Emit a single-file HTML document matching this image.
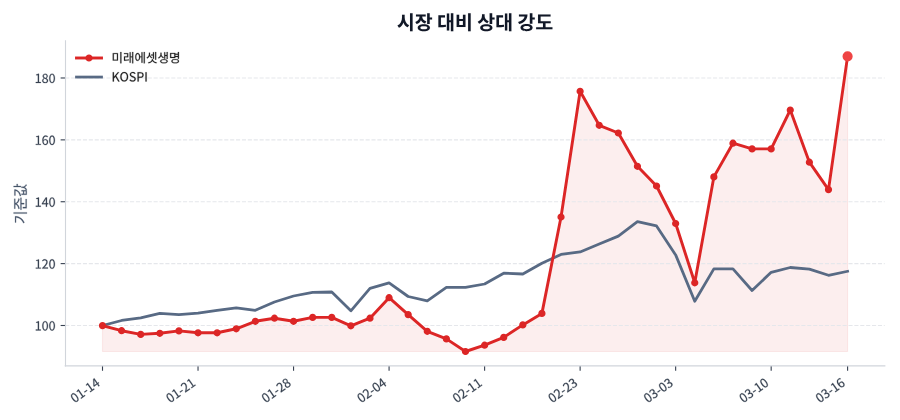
<!DOCTYPE html>
<html><head><meta charset="utf-8"><style>html,body{margin:0;padding:0;background:#fff;width:900px;height:420px;overflow:hidden;font-family:"Liberation Sans",sans-serif}</style></head>
<body><svg width="900" height="420" viewBox="0 0 648 302.4" style="display:block"> <defs> <style type="text/css">*{stroke-linejoin: round; stroke-linecap: butt}</style> </defs> <g id="figure_1"> <g id="patch_1"> <path d="M 0 302.4 L 648 302.4 L 648 0 L 0 0 z " style="fill: #ffffff"/> </g> <g id="axes_1"> <g id="patch_2"> <path d="M 46.98 263.448 L 637.092 263.448 L 637.092 29.9304 L 46.98 29.9304 z " style="fill: #ffffff"/> </g> <g id="FillBetweenPolyCollection_1"> <defs> <path id="mbb5682c461" d="M 73.803273 -49.325052 L 73.803273 -67.972246 L 87.558797 -64.300405 L 101.314322 -61.63652 L 115.069846 -62.428486 L 128.825371 -64.156411 L 142.580895 -62.78847 L 156.33642 -62.78847 L 170.091944 -65.668346 L 183.847469 -71.068112 L 197.602993 -73.300016 L 211.358517 -71.068112 L 225.114042 -73.875991 L 238.869566 -73.875991 L 252.625091 -67.828253 L 266.380615 -73.300016 L 280.13614 -88.059378 L 293.891664 -75.891904 L 307.647189 -63.868424 L 321.402713 -58.39666 L 335.158238 -49.325052 L 348.913762 -53.860856 L 362.669287 -59.476614 L 376.424811 -68.476225 L 390.180336 -76.755867 L 403.93586 -146.160866 L 417.691385 -236.660954 L 431.446909 -212.182012 L 445.202434 -206.638252 L 458.957958 -182.663289 L 472.713483 -168.479902 L 486.469007 -141.481069 L 500.224531 -98.786914 L 513.980056 -175.031618 L 527.73558 -199.29457 L 541.491105 -195.190747 L 555.246629 -195.190747 L 569.002154 -223.197536 L 582.757678 -185.615161 L 596.513203 -165.888014 L 610.268727 -261.859865 L 610.268727 -49.325052 L 610.268727 -49.325052 L 596.513203 -49.325052 L 582.757678 -49.325052 L 569.002154 -49.325052 L 555.246629 -49.325052 L 541.491105 -49.325052 L 527.73558 -49.325052 L 513.980056 -49.325052 L 500.224531 -49.325052 L 486.469007 -49.325052 L 472.713483 -49.325052 L 458.957958 -49.325052 L 445.202434 -49.325052 L 431.446909 -49.325052 L 417.691385 -49.325052 L 403.93586 -49.325052 L 390.180336 -49.325052 L 376.424811 -49.325052 L 362.669287 -49.325052 L 348.913762 -49.325052 L 335.158238 -49.325052 L 321.402713 -49.325052 L 307.647189 -49.325052 L 293.891664 -49.325052 L 280.13614 -49.325052 L 266.380615 -49.325052 L 252.625091 -49.325052 L 238.869566 -49.325052 L 225.114042 -49.325052 L 211.358517 -49.325052 L 197.602993 -49.325052 L 183.847469 -49.325052 L 170.091944 -49.325052 L 156.33642 -49.325052 L 142.580895 -49.325052 L 128.825371 -49.325052 L 115.069846 -49.325052 L 101.314322 -49.325052 L 87.558797 -49.325052 L 73.803273 -49.325052 z " style="stroke: #dc2626; stroke-opacity: 0.08; stroke-width: 0.8"/> </defs> <g clip-path="url(#p54ad250956)"> <use href="#mbb5682c461" x="0" y="302.4" style="fill: #dc2626; fill-opacity: 0.08; stroke: #dc2626; stroke-opacity: 0.08; stroke-width: 0.8"/> </g> </g> <g id="matplotlib.axis_1"> <g id="xtick_1"> <g id="line2d_1"> <defs> <path id="mb86c6f471f" d="M 0 0 L 0 3.5 " style="stroke: #374151; stroke-width: 0.8"/> </defs> <g> <use href="#mb86c6f471f" x="73.803273" y="263.448" style="fill: #374151; stroke: #374151; stroke-width: 0.8"/> </g> </g> <g id="text_1"> <!-- 01-14 --> <g style="fill: #374151; stroke: #374151; stroke-width: 112.6" transform="translate(53.695709 290.367442) rotate(-35) scale(0.09 -0.09)"> <defs> <path id="gl-Regular-30" d="M 1779 -83 C 2669 -83 3238 723 3238 2362 C 3238 3987 2669 4774 1779 4774 C 883 4774 320 3987 320 2362 C 320 723 883 -83 1779 -83 z M 1779 390 C 1248 390 883 986 883 2362 C 883 3731 1248 4314 1779 4314 C 2310 4314 2675 3731 2675 2362 C 2675 986 2310 390 1779 390 z " transform="scale(0.015625)"/> <path id="gl-Regular-31" d="M 563 0 L 3136 0 L 3136 486 L 2195 486 L 2195 4691 L 1747 4691 C 1491 4544 1190 4435 774 4358 L 774 3987 L 1613 3987 L 1613 486 L 563 486 L 563 0 z " transform="scale(0.015625)"/> <path id="gl-Regular-2d" d="M 294 1568 L 1933 1568 L 1933 2016 L 294 2016 L 294 1568 z " transform="scale(0.015625)"/> <path id="gl-Regular-34" d="M 2176 0 L 2726 0 L 2726 1293 L 3354 1293 L 3354 1760 L 2726 1760 L 2726 4691 L 2080 4691 L 128 1677 L 128 1293 L 2176 1293 L 2176 0 z M 2176 1760 L 736 1760 L 1805 3360 C 1939 3590 2067 3827 2182 4051 L 2208 4051 C 2195 3814 2176 3430 2176 3200 L 2176 1760 z " transform="scale(0.015625)"/> </defs> <use href="#gl-Regular-30"/> <use href="#gl-Regular-31" transform="translate(55.499985 0)"/> <use href="#gl-Regular-2d" transform="translate(110.999969 0)"/> <use href="#gl-Regular-31" transform="translate(145.699966 0)"/> <use href="#gl-Regular-34" transform="translate(201.199951 0)"/> </g> </g> </g> <g id="xtick_2"> <g id="line2d_2"> <g> <use href="#mb86c6f471f" x="142.580895" y="263.448" style="fill: #374151; stroke: #374151; stroke-width: 0.8"/> </g> </g> <g id="text_2"> <!-- 01-21 --> <g style="fill: #374151; stroke: #374151; stroke-width: 112.6" transform="translate(122.473331 290.367442) rotate(-35) scale(0.09 -0.09)"> <defs> <path id="gl-Regular-32" d="M 282 0 L 3232 0 L 3232 506 L 1933 506 C 1696 506 1408 480 1165 461 C 2266 1504 3008 2458 3008 3398 C 3008 4230 2477 4774 1638 4774 C 1043 4774 634 4506 256 4090 L 595 3757 C 858 4070 1184 4301 1568 4301 C 2150 4301 2432 3910 2432 3373 C 2432 2566 1754 1632 282 346 L 282 0 z " transform="scale(0.015625)"/> </defs> <use href="#gl-Regular-30"/> <use href="#gl-Regular-31" transform="translate(55.499985 0)"/> <use href="#gl-Regular-2d" transform="translate(110.999969 0)"/> <use href="#gl-Regular-32" transform="translate(145.699966 0)"/> <use href="#gl-Regular-31" transform="translate(201.199951 0)"/> </g> </g> </g> <g id="xtick_3"> <g id="line2d_3"> <g> <use href="#mb86c6f471f" x="211.358517" y="263.448" style="fill: #374151; stroke: #374151; stroke-width: 0.8"/> </g> </g> <g id="text_3"> <!-- 01-28 --> <g style="fill: #374151; stroke: #374151; stroke-width: 112.6" transform="translate(191.250954 290.367442) rotate(-35) scale(0.09 -0.09)"> <defs> <path id="gl-Regular-38" d="M 1792 -83 C 2669 -83 3258 448 3258 1126 C 3258 1773 2880 2125 2470 2362 L 2470 2394 C 2746 2611 3091 3034 3091 3526 C 3091 4250 2605 4762 1805 4762 C 1075 4762 518 4282 518 3571 C 518 3078 813 2726 1152 2490 L 1152 2464 C 723 2234 294 1792 294 1165 C 294 442 922 -83 1792 -83 z M 2112 2547 C 1555 2765 1050 3014 1050 3571 C 1050 4026 1363 4326 1798 4326 C 2298 4326 2592 3962 2592 3494 C 2592 3149 2426 2829 2112 2547 z M 1798 352 C 1235 352 813 717 813 1216 C 813 1664 1082 2035 1459 2278 C 2125 2010 2701 1779 2701 1146 C 2701 678 2342 352 1798 352 z " transform="scale(0.015625)"/> </defs> <use href="#gl-Regular-30"/> <use href="#gl-Regular-31" transform="translate(55.499985 0)"/> <use href="#gl-Regular-2d" transform="translate(110.999969 0)"/> <use href="#gl-Regular-32" transform="translate(145.699966 0)"/> <use href="#gl-Regular-38" transform="translate(201.199951 0)"/> </g> </g> </g> <g id="xtick_4"> <g id="line2d_4"> <g> <use href="#mb86c6f471f" x="280.13614" y="263.448" style="fill: #374151; stroke: #374151; stroke-width: 0.8"/> </g> </g> <g id="text_4"> <!-- 02-04 --> <g style="fill: #374151; stroke: #374151; stroke-width: 112.6" transform="translate(260.028576 290.367442) rotate(-35) scale(0.09 -0.09)"> <use href="#gl-Regular-30"/> <use href="#gl-Regular-32" transform="translate(55.499985 0)"/> <use href="#gl-Regular-2d" transform="translate(110.999969 0)"/> <use href="#gl-Regular-30" transform="translate(145.699966 0)"/> <use href="#gl-Regular-34" transform="translate(201.199951 0)"/> </g> </g> </g> <g id="xtick_5"> <g id="line2d_5"> <g> <use href="#mb86c6f471f" x="348.913762" y="263.448" style="fill: #374151; stroke: #374151; stroke-width: 0.8"/> </g> </g> <g id="text_5"> <!-- 02-11 --> <g style="fill: #374151; stroke: #374151; stroke-width: 112.6" transform="translate(328.806198 290.367442) rotate(-35) scale(0.09 -0.09)"> <use href="#gl-Regular-30"/> <use href="#gl-Regular-32" transform="translate(55.499985 0)"/> <use href="#gl-Regular-2d" transform="translate(110.999969 0)"/> <use href="#gl-Regular-31" transform="translate(145.699966 0)"/> <use href="#gl-Regular-31" transform="translate(201.199951 0)"/> </g> </g> </g> <g id="xtick_6"> <g id="line2d_6"> <g> <use href="#mb86c6f471f" x="417.691385" y="263.448" style="fill: #374151; stroke: #374151; stroke-width: 0.8"/> </g> </g> <g id="text_6"> <!-- 02-23 --> <g style="fill: #374151; stroke: #374151; stroke-width: 112.6" transform="translate(397.583821 290.367442) rotate(-35) scale(0.09 -0.09)"> <defs> <path id="gl-Regular-33" d="M 1683 -83 C 2522 -83 3194 416 3194 1254 C 3194 1901 2752 2310 2202 2445 L 2202 2477 C 2701 2650 3034 3034 3034 3603 C 3034 4346 2458 4774 1664 4774 C 1126 4774 710 4538 358 4218 L 672 3846 C 941 4115 1267 4301 1645 4301 C 2138 4301 2438 4006 2438 3558 C 2438 3053 2112 2662 1139 2662 L 1139 2214 C 2227 2214 2598 1843 2598 1274 C 2598 736 2208 403 1645 403 C 1114 403 762 659 486 941 L 186 563 C 493 224 954 -83 1683 -83 z " transform="scale(0.015625)"/> </defs> <use href="#gl-Regular-30"/> <use href="#gl-Regular-32" transform="translate(55.499985 0)"/> <use href="#gl-Regular-2d" transform="translate(110.999969 0)"/> <use href="#gl-Regular-32" transform="translate(145.699966 0)"/> <use href="#gl-Regular-33" transform="translate(201.199951 0)"/> </g> </g> </g> <g id="xtick_7"> <g id="line2d_7"> <g> <use href="#mb86c6f471f" x="486.469007" y="263.448" style="fill: #374151; stroke: #374151; stroke-width: 0.8"/> </g> </g> <g id="text_7"> <!-- 03-03 --> <g style="fill: #374151; stroke: #374151; stroke-width: 112.6" transform="translate(466.361443 290.367442) rotate(-35) scale(0.09 -0.09)"> <use href="#gl-Regular-30"/> <use href="#gl-Regular-33" transform="translate(55.499985 0)"/> <use href="#gl-Regular-2d" transform="translate(110.999969 0)"/> <use href="#gl-Regular-30" transform="translate(145.699966 0)"/> <use href="#gl-Regular-33" transform="translate(201.199951 0)"/> </g> </g> </g> <g id="xtick_8"> <g id="line2d_8"> <g> <use href="#mb86c6f471f" x="555.246629" y="263.448" style="fill: #374151; stroke: #374151; stroke-width: 0.8"/> </g> </g> <g id="text_8"> <!-- 03-10 --> <g style="fill: #374151; stroke: #374151; stroke-width: 112.6" transform="translate(535.139066 290.367442) rotate(-35) scale(0.09 -0.09)"> <use href="#gl-Regular-30"/> <use href="#gl-Regular-33" transform="translate(55.499985 0)"/> <use href="#gl-Regular-2d" transform="translate(110.999969 0)"/> <use href="#gl-Regular-31" transform="translate(145.699966 0)"/> <use href="#gl-Regular-30" transform="translate(201.199951 0)"/> </g> </g> </g> <g id="xtick_9"> <g id="line2d_9"> <g> <use href="#mb86c6f471f" x="610.268727" y="263.448" style="fill: #374151; stroke: #374151; stroke-width: 0.8"/> </g> </g> <g id="text_9"> <!-- 03-16 --> <g style="fill: #374151; stroke: #374151; stroke-width: 112.6" transform="translate(590.161164 290.367442) rotate(-35) scale(0.09 -0.09)"> <defs> <path id="gl-Regular-36" d="M 1926 -83 C 2656 -83 3277 531 3277 1440 C 3277 2426 2765 2912 1971 2912 C 1606 2912 1197 2701 909 2349 C 934 3802 1466 4294 2118 4294 C 2400 4294 2682 4154 2861 3936 L 3194 4294 C 2931 4576 2579 4774 2093 4774 C 1184 4774 358 4077 358 2240 C 358 691 1030 -83 1926 -83 z M 922 1882 C 1229 2317 1587 2477 1875 2477 C 2445 2477 2720 2074 2720 1440 C 2720 800 2374 378 1926 378 C 1338 378 986 909 922 1882 z " transform="scale(0.015625)"/> </defs> <use href="#gl-Regular-30"/> <use href="#gl-Regular-33" transform="translate(55.499985 0)"/> <use href="#gl-Regular-2d" transform="translate(110.999969 0)"/> <use href="#gl-Regular-31" transform="translate(145.699966 0)"/> <use href="#gl-Regular-36" transform="translate(201.199951 0)"/> </g> </g> </g> </g> <g id="matplotlib.axis_2"> <g id="ytick_1"> <g id="line2d_10"> <path d="M 46.98 234.355757 L 637.092 234.355757 " clip-path="url(#p54ad250956)" style="fill: none; stroke-dasharray: 2.96,1.28; stroke-dashoffset: 0; stroke: #e5e7eb; stroke-width: 0.8"/> </g> <g id="line2d_11"> <defs> <path id="m39114ecc0a" d="M 0 0 L -3.5 0 " style="stroke: #374151; stroke-width: 0.8"/> </defs> <g> <use href="#m39114ecc0a" x="47.16" y="234.355757" style="fill: #374151; stroke: #374151; stroke-width: 0.8"/> </g> </g> <g id="text_10"> <!-- 100 --> <g style="fill: #374151; stroke: #374151; stroke-width: 112.6" transform="translate(24.995 237.937476) scale(0.09 -0.09)"> <use href="#gl-Regular-31"/> <use href="#gl-Regular-30" transform="translate(55.499985 0)"/> <use href="#gl-Regular-30" transform="translate(110.999969 0)"/> </g> </g> </g> <g id="ytick_2"> <g id="line2d_12"> <path d="M 46.98 189.804083 L 637.092 189.804083 " clip-path="url(#p54ad250956)" style="fill: none; stroke-dasharray: 2.96,1.28; stroke-dashoffset: 0; stroke: #e5e7eb; stroke-width: 0.8"/> </g> <g id="line2d_13"> <g> <use href="#m39114ecc0a" x="47.16" y="189.804083" style="fill: #374151; stroke: #374151; stroke-width: 0.8"/> </g> </g> <g id="text_11"> <!-- 120 --> <g style="fill: #374151; stroke: #374151; stroke-width: 112.6" transform="translate(24.995 193.385801) scale(0.09 -0.09)"> <use href="#gl-Regular-31"/> <use href="#gl-Regular-32" transform="translate(55.499985 0)"/> <use href="#gl-Regular-30" transform="translate(110.999969 0)"/> </g> </g> </g> <g id="ytick_3"> <g id="line2d_14"> <path d="M 46.98 145.252409 L 637.092 145.252409 " clip-path="url(#p54ad250956)" style="fill: none; stroke-dasharray: 2.96,1.28; stroke-dashoffset: 0; stroke: #e5e7eb; stroke-width: 0.8"/> </g> <g id="line2d_15"> <g> <use href="#m39114ecc0a" x="47.16" y="145.252409" style="fill: #374151; stroke: #374151; stroke-width: 0.8"/> </g> </g> <g id="text_12"> <!-- 140 --> <g style="fill: #374151; stroke: #374151; stroke-width: 112.6" transform="translate(24.995 148.834127) scale(0.09 -0.09)"> <use href="#gl-Regular-31"/> <use href="#gl-Regular-34" transform="translate(55.499985 0)"/> <use href="#gl-Regular-30" transform="translate(110.999969 0)"/> </g> </g> </g> <g id="ytick_4"> <g id="line2d_16"> <path d="M 46.98 100.700734 L 637.092 100.700734 " clip-path="url(#p54ad250956)" style="fill: none; stroke-dasharray: 2.96,1.28; stroke-dashoffset: 0; stroke: #e5e7eb; stroke-width: 0.8"/> </g> <g id="line2d_17"> <g> <use href="#m39114ecc0a" x="47.16" y="100.700734" style="fill: #374151; stroke: #374151; stroke-width: 0.8"/> </g> </g> <g id="text_13"> <!-- 160 --> <g style="fill: #374151; stroke: #374151; stroke-width: 112.6" transform="translate(24.995 104.282453) scale(0.09 -0.09)"> <use href="#gl-Regular-31"/> <use href="#gl-Regular-36" transform="translate(55.499985 0)"/> <use href="#gl-Regular-30" transform="translate(110.999969 0)"/> </g> </g> </g> <g id="ytick_5"> <g id="line2d_18"> <path d="M 46.98 56.14906 L 637.092 56.14906 " clip-path="url(#p54ad250956)" style="fill: none; stroke-dasharray: 2.96,1.28; stroke-dashoffset: 0; stroke: #e5e7eb; stroke-width: 0.8"/> </g> <g id="line2d_19"> <g> <use href="#m39114ecc0a" x="47.16" y="56.14906" style="fill: #374151; stroke: #374151; stroke-width: 0.8"/> </g> </g> <g id="text_14"> <!-- 180 --> <g style="fill: #374151; stroke: #374151; stroke-width: 112.6" transform="translate(24.995 59.730779) scale(0.09 -0.09)"> <use href="#gl-Regular-31"/> <use href="#gl-Regular-38" transform="translate(55.499985 0)"/> <use href="#gl-Regular-30" transform="translate(110.999969 0)"/> </g> </g> </g> <g id="text_15"> <!-- 기준값 --> <g style="fill: #475569; stroke: #475569; stroke-width: 95.6" transform="translate(18.566937 161.3172) rotate(-90) scale(0.106 -0.106)"> <defs> <path id="gl-Regular-ae30" d="M 4538 5293 L 4538 -499 L 5069 -499 L 5069 5293 L 4538 5293 z M 659 4666 L 659 4237 L 2829 4237 C 2720 2854 1939 1754 390 1011 L 672 582 C 2611 1523 3366 2995 3366 4666 L 659 4666 z " transform="scale(0.015625)"/> <path id="gl-Regular-c900" d="M 800 5005 L 800 4576 L 2592 4576 C 2592 3872 1664 3296 634 3155 L 832 2733 C 1779 2867 2624 3334 2931 4006 C 3245 3334 4096 2867 5037 2733 L 5235 3155 C 4211 3296 3277 3872 3277 4576 L 5075 4576 L 5075 5005 L 800 5005 z M 314 2317 L 314 1882 L 2714 1882 L 2714 710 L 3238 710 L 3238 1882 L 5562 1882 L 5562 2317 L 314 2317 z M 979 1274 L 979 -371 L 4979 -371 L 4979 64 L 1510 64 L 1510 1274 L 979 1274 z " transform="scale(0.015625)"/> <path id="gl-Regular-ac12" d="M 947 1843 L 947 -416 L 2931 -416 L 2931 1843 L 2445 1843 L 2445 1152 L 1446 1152 L 1446 1843 L 947 1843 z M 1446 742 L 2445 742 L 2445 0 L 1446 0 L 1446 742 z M 4282 5293 L 4282 2144 L 4813 2144 L 4813 3514 L 5664 3514 L 5664 3962 L 4813 3962 L 4813 5293 L 4282 5293 z M 589 4947 L 589 4512 L 2662 4512 C 2573 3584 1747 2861 333 2522 L 531 2086 C 2227 2502 3245 3488 3245 4947 L 589 4947 z M 3968 1907 L 3968 1421 C 3968 870 3635 230 2963 -70 L 3251 -474 C 3731 -256 4051 141 4224 582 C 4397 134 4717 -256 5190 -474 L 5472 -70 C 4806 224 4480 870 4480 1440 L 4480 1907 L 3968 1907 z " transform="scale(0.015625)"/> </defs> <use href="#gl-Regular-ae30"/> <use href="#gl-Regular-c900" transform="translate(91.999985 0)"/> <use href="#gl-Regular-ac12" transform="translate(183.999969 0)"/> </g> </g> </g> <g id="line2d_20"> <path d="M 73.803273 234.427754 L 87.558797 230.755912 L 101.314322 228.811996 L 115.069846 225.644133 L 128.825371 226.580093 L 142.580895 225.50014 L 156.33642 223.41223 L 170.091944 221.612308 L 183.847469 223.41223 L 197.602993 217.436488 L 211.358517 213.116675 L 225.114042 210.524787 L 238.869566 210.236799 L 252.625091 223.772214 L 266.380615 207.644911 L 280.13614 203.685083 L 293.891664 213.476659 L 307.647189 216.644522 L 321.402713 206.924943 L 335.158238 206.924943 L 348.913762 204.477048 L 362.669287 196.701384 L 376.424811 197.27736 L 390.180336 189.501696 L 403.93586 183.237966 L 417.691385 181.438044 L 431.446909 175.678293 L 445.202434 169.990539 L 458.957958 159.55099 L 472.713483 162.646857 L 486.469007 183.525954 L 500.224531 216.860513 L 513.980056 193.605518 L 527.73558 193.605518 L 541.491105 209.156846 L 555.246629 196.053413 L 569.002154 192.597562 L 582.757678 193.749512 L 596.513203 198.213319 L 610.268727 195.333444 " clip-path="url(#p54ad250956)" style="fill: none; stroke: #586a84; stroke-width: 2; stroke-linecap: square"/> </g> <g id="patch_3"> <path d="M 47.16 263.448 L 47.16 29.35 " style="fill: none; stroke: #d1d5db; stroke-width: 0.8; stroke-linejoin: miter; stroke-linecap: square"/> </g> <g id="patch_4"> <path d="M 46.98 263.448 L 637.092 263.448 " style="fill: none; stroke: #d1d5db; stroke-width: 0.8; stroke-linejoin: miter; stroke-linecap: square"/> </g> <g id="line2d_21"> <path d="M 73.803273 234.427754 L 87.558797 238.099595 L 101.314322 240.76348 L 115.069846 239.971514 L 128.825371 238.243589 L 142.580895 239.61153 L 156.33642 239.61153 L 170.091944 236.731654 L 183.847469 231.331888 L 197.602993 229.099984 L 211.358517 231.331888 L 225.114042 228.524009 L 238.869566 228.524009 L 252.625091 234.571747 L 266.380615 229.099984 L 280.13614 214.340622 L 293.891664 226.508096 L 307.647189 238.531576 L 321.402713 244.00334 L 335.158238 253.074948 L 348.913762 248.539144 L 362.669287 242.923386 L 376.424811 233.923775 L 390.180336 225.644133 L 403.93586 156.239134 L 417.691385 65.739046 L 431.446909 90.217988 L 445.202434 95.761748 L 458.957958 119.736711 L 472.713483 133.920098 L 486.469007 160.918931 L 500.224531 203.613086 L 513.980056 127.368382 L 527.73558 103.10543 L 541.491105 107.209253 L 555.246629 107.209253 L 569.002154 79.202464 L 582.757678 116.784839 L 596.513203 136.511986 L 610.268727 40.540135 " clip-path="url(#p54ad250956)" style="fill: none; stroke: #dc2626; stroke-width: 2.1; stroke-linecap: square"/> <defs> <path id="m06e11cd107" d="M 0 2.1 C 0.556927 2.1 1.091118 1.878731 1.484924 1.484924 C 1.878731 1.091118 2.1 0.556927 2.1 0 C 2.1 -0.556927 1.878731 -1.091118 1.484924 -1.484924 C 1.091118 -1.878731 0.556927 -2.1 0 -2.1 C -0.556927 -2.1 -1.091118 -1.878731 -1.484924 -1.484924 C -1.878731 -1.091118 -2.1 -0.556927 -2.1 0 C -2.1 0.556927 -1.878731 1.091118 -1.484924 1.484924 C -1.091118 1.878731 -0.556927 2.1 0 2.1 z " style="stroke: #dc2626"/> </defs> <g clip-path="url(#p54ad250956)"> <use href="#m06e11cd107" x="73.803273" y="234.427754" style="fill: #dc2626; stroke: #dc2626"/> <use href="#m06e11cd107" x="87.558797" y="238.099595" style="fill: #dc2626; stroke: #dc2626"/> <use href="#m06e11cd107" x="101.314322" y="240.76348" style="fill: #dc2626; stroke: #dc2626"/> <use href="#m06e11cd107" x="115.069846" y="239.971514" style="fill: #dc2626; stroke: #dc2626"/> <use href="#m06e11cd107" x="128.825371" y="238.243589" style="fill: #dc2626; stroke: #dc2626"/> <use href="#m06e11cd107" x="142.580895" y="239.61153" style="fill: #dc2626; stroke: #dc2626"/> <use href="#m06e11cd107" x="156.33642" y="239.61153" style="fill: #dc2626; stroke: #dc2626"/> <use href="#m06e11cd107" x="170.091944" y="236.731654" style="fill: #dc2626; stroke: #dc2626"/> <use href="#m06e11cd107" x="183.847469" y="231.331888" style="fill: #dc2626; stroke: #dc2626"/> <use href="#m06e11cd107" x="197.602993" y="229.099984" style="fill: #dc2626; stroke: #dc2626"/> <use href="#m06e11cd107" x="211.358517" y="231.331888" style="fill: #dc2626; stroke: #dc2626"/> <use href="#m06e11cd107" x="225.114042" y="228.524009" style="fill: #dc2626; stroke: #dc2626"/> <use href="#m06e11cd107" x="238.869566" y="228.524009" style="fill: #dc2626; stroke: #dc2626"/> <use href="#m06e11cd107" x="252.625091" y="234.571747" style="fill: #dc2626; stroke: #dc2626"/> <use href="#m06e11cd107" x="266.380615" y="229.099984" style="fill: #dc2626; stroke: #dc2626"/> <use href="#m06e11cd107" x="280.13614" y="214.340622" style="fill: #dc2626; stroke: #dc2626"/> <use href="#m06e11cd107" x="293.891664" y="226.508096" style="fill: #dc2626; stroke: #dc2626"/> <use href="#m06e11cd107" x="307.647189" y="238.531576" style="fill: #dc2626; stroke: #dc2626"/> <use href="#m06e11cd107" x="321.402713" y="244.00334" style="fill: #dc2626; stroke: #dc2626"/> <use href="#m06e11cd107" x="335.158238" y="253.074948" style="fill: #dc2626; stroke: #dc2626"/> <use href="#m06e11cd107" x="348.913762" y="248.539144" style="fill: #dc2626; stroke: #dc2626"/> <use href="#m06e11cd107" x="362.669287" y="242.923386" style="fill: #dc2626; stroke: #dc2626"/> <use href="#m06e11cd107" x="376.424811" y="233.923775" style="fill: #dc2626; stroke: #dc2626"/> <use href="#m06e11cd107" x="390.180336" y="225.644133" style="fill: #dc2626; stroke: #dc2626"/> <use href="#m06e11cd107" x="403.93586" y="156.239134" style="fill: #dc2626; stroke: #dc2626"/> <use href="#m06e11cd107" x="417.691385" y="65.739046" style="fill: #dc2626; stroke: #dc2626"/> <use href="#m06e11cd107" x="431.446909" y="90.217988" style="fill: #dc2626; stroke: #dc2626"/> <use href="#m06e11cd107" x="445.202434" y="95.761748" style="fill: #dc2626; stroke: #dc2626"/> <use href="#m06e11cd107" x="458.957958" y="119.736711" style="fill: #dc2626; stroke: #dc2626"/> <use href="#m06e11cd107" x="472.713483" y="133.920098" style="fill: #dc2626; stroke: #dc2626"/> <use href="#m06e11cd107" x="486.469007" y="160.918931" style="fill: #dc2626; stroke: #dc2626"/> <use href="#m06e11cd107" x="500.224531" y="203.613086" style="fill: #dc2626; stroke: #dc2626"/> <use href="#m06e11cd107" x="513.980056" y="127.368382" style="fill: #dc2626; stroke: #dc2626"/> <use href="#m06e11cd107" x="527.73558" y="103.10543" style="fill: #dc2626; stroke: #dc2626"/> <use href="#m06e11cd107" x="541.491105" y="107.209253" style="fill: #dc2626; stroke: #dc2626"/> <use href="#m06e11cd107" x="555.246629" y="107.209253" style="fill: #dc2626; stroke: #dc2626"/> <use href="#m06e11cd107" x="569.002154" y="79.202464" style="fill: #dc2626; stroke: #dc2626"/> <use href="#m06e11cd107" x="582.757678" y="116.784839" style="fill: #dc2626; stroke: #dc2626"/> <use href="#m06e11cd107" x="596.513203" y="136.511986" style="fill: #dc2626; stroke: #dc2626"/> <use href="#m06e11cd107" x="610.268727" y="40.540135" style="fill: #dc2626; stroke: #dc2626"/> </g> </g> <g id="text_16"> <!-- 시장 대비 상대 강도 --> <g style="fill: #111827; stroke: #111827; stroke-width: 19.7" transform="translate(285.748344 21.2804) scale(0.14 -0.14)"> <defs> <path id="gl-Bold-c2dc" d="M 4326 5370 L 4326 -576 L 5178 -576 L 5178 5370 L 4326 5370 z M 1702 4902 L 1702 4045 C 1702 2893 1216 1747 186 1299 L 691 595 C 1402 928 1882 1562 2144 2349 C 2406 1626 2867 1043 3546 736 L 4038 1427 C 3027 1856 2560 2944 2560 4045 L 2560 4902 L 1702 4902 z " transform="scale(0.015625)"/> <path id="gl-Bold-c7a5" d="M 2989 1741 C 1760 1741 979 1306 979 589 C 979 -141 1760 -570 2989 -570 C 4218 -570 4992 -141 4992 589 C 4992 1306 4218 1741 2989 1741 z M 2989 1075 C 3744 1075 4147 922 4147 589 C 4147 250 3744 90 2989 90 C 2234 90 1830 250 1830 589 C 1830 922 2234 1075 2989 1075 z M 397 4966 L 397 4288 L 1581 4288 C 1568 3546 1139 2797 179 2477 L 602 1805 C 1306 2035 1773 2502 2035 3098 C 2291 2598 2733 2208 3386 2010 L 3795 2675 C 2861 2950 2451 3610 2438 4288 L 3603 4288 L 3603 4966 L 397 4966 z M 4070 5357 L 4070 1843 L 4922 1843 L 4922 3302 L 5709 3302 L 5709 4000 L 4922 4000 L 4922 5357 L 4070 5357 z " transform="scale(0.015625)"/> <path id="gl-Bold-20" transform="scale(0.015625)"/> <path id="gl-Bold-b300" d="M 3213 5261 L 3213 -288 L 4000 -288 L 4000 2394 L 4538 2394 L 4538 -563 L 5350 -563 L 5350 5363 L 4538 5363 L 4538 3078 L 4000 3078 L 4000 5261 L 3213 5261 z M 429 4672 L 429 768 L 845 768 C 1600 768 2227 794 2950 928 L 2880 1619 C 2323 1517 1818 1485 1267 1472 L 1267 3987 L 2611 3987 L 2611 4672 L 429 4672 z " transform="scale(0.015625)"/> <path id="gl-Bold-be44" d="M 4326 5370 L 4326 -576 L 5178 -576 L 5178 5370 L 4326 5370 z M 550 4896 L 550 806 L 3469 806 L 3469 4896 L 2624 4896 L 2624 3450 L 1395 3450 L 1395 4896 L 550 4896 z M 1395 2790 L 2624 2790 L 2624 1485 L 1395 1485 L 1395 2790 z " transform="scale(0.015625)"/> <path id="gl-Bold-c0c1" d="M 2989 1722 C 1754 1722 979 1293 979 576 C 979 -141 1754 -570 2989 -570 C 4224 -570 4992 -141 4992 576 C 4992 1293 4224 1722 2989 1722 z M 2989 1062 C 3744 1062 4147 909 4147 576 C 4147 250 3744 90 2989 90 C 2234 90 1830 250 1830 576 C 1830 909 2234 1062 2989 1062 z M 1562 5043 L 1562 4512 C 1562 3706 1158 2912 166 2579 L 614 1914 C 1286 2150 1747 2611 2003 3194 C 2253 2688 2682 2291 3309 2080 L 3750 2746 C 2816 3034 2419 3718 2419 4435 L 2419 5043 L 1562 5043 z M 4070 5357 L 4070 1856 L 4922 1856 L 4922 3290 L 5709 3290 L 5709 3987 L 4922 3987 L 4922 5357 L 4070 5357 z " transform="scale(0.015625)"/> <path id="gl-Bold-ac15" d="M 3002 1856 C 1811 1856 1011 1382 1011 640 C 1011 -102 1811 -570 3002 -570 C 4198 -570 4992 -102 4992 640 C 4992 1382 4198 1856 3002 1856 z M 3002 1197 C 3725 1197 4154 1005 4154 640 C 4154 275 3725 90 3002 90 C 2285 90 1856 275 1856 640 C 1856 1005 2285 1197 3002 1197 z M 4070 5363 L 4070 1933 L 4922 1933 L 4922 3277 L 5709 3277 L 5709 3981 L 4922 3981 L 4922 5363 L 4070 5363 z M 493 4973 L 493 4294 L 2362 4294 C 2234 3488 1504 2816 218 2470 L 563 1792 C 2304 2272 3296 3379 3296 4973 L 493 4973 z " transform="scale(0.015625)"/> <path id="gl-Bold-b3c4" d="M 890 4954 L 890 2035 L 2515 2035 L 2515 794 L 262 794 L 262 96 L 5632 96 L 5632 794 L 3360 794 L 3360 2035 L 5056 2035 L 5056 2720 L 1734 2720 L 1734 4275 L 5011 4275 L 5011 4954 L 890 4954 z " transform="scale(0.015625)"/> </defs> <use href="#gl-Bold-c2dc"/> <use href="#gl-Bold-c7a5" transform="translate(91.999985 0)"/> <use href="#gl-Bold-20" transform="translate(183.999969 0)"/> <use href="#gl-Bold-b300" transform="translate(206.699966 0)"/> <use href="#gl-Bold-be44" transform="translate(298.699951 0)"/> <use href="#gl-Bold-20" transform="translate(390.699936 0)"/> <use href="#gl-Bold-c0c1" transform="translate(413.399933 0)"/> <use href="#gl-Bold-b300" transform="translate(505.399918 0)"/> <use href="#gl-Bold-20" transform="translate(597.399902 0)"/> <use href="#gl-Bold-ac15" transform="translate(620.099899 0)"/> <use href="#gl-Bold-b3c4" transform="translate(712.099884 0)"/> </g> </g> <g id="PathCollection_1"> <defs> <path id="mcf82a3c0c2" d="M 0 3.162278 C 0.838646 3.162278 1.643056 2.82908 2.236068 2.236068 C 2.82908 1.643056 3.162278 0.838646 3.162278 0 C 3.162278 -0.838646 2.82908 -1.643056 2.236068 -2.236068 C 1.643056 -2.82908 0.838646 -3.162278 0 -3.162278 C -0.838646 -3.162278 -1.643056 -2.82908 -2.236068 -2.236068 C -2.82908 -1.643056 -3.162278 -0.838646 -3.162278 0 C -3.162278 0.838646 -2.82908 1.643056 -2.236068 2.236068 C -1.643056 2.82908 -0.838646 3.162278 0 3.162278 z " style="stroke: #ef4444"/> </defs> <g clip-path="url(#p54ad250956)"> <use href="#mcf82a3c0c2" x="610.268727" y="40.540135" style="fill: #ef4444; stroke: #ef4444"/> </g> </g> <g id="legend_1"> <g id="line2d_22"> <path d="M 55.08 41.755811 L 64.08 41.755811 L 73.08 41.755811 " style="fill: none; stroke: #dc2626; stroke-width: 2.1; stroke-linecap: square"/> <g> <use href="#m06e11cd107" x="64.08" y="41.755811" style="fill: #dc2626; stroke: #dc2626"/> </g> </g> <g id="text_17"> <!-- 미래에셋생명 --> <g style="fill: #222222; stroke: #222222; stroke-width: 112.6" transform="translate(80.28 44.905811) scale(0.09 -0.09)"> <defs> <path id="gl-Regular-bbf8" d="M 646 4723 L 646 954 L 3309 954 L 3309 4723 L 646 4723 z M 2797 4301 L 2797 1382 L 1171 1382 L 1171 4301 L 2797 4301 z M 4525 5293 L 4525 -506 L 5056 -506 L 5056 5293 L 4525 5293 z " transform="scale(0.015625)"/> <path id="gl-Regular-b798" d="M 499 4666 L 499 4224 L 2150 4224 L 2150 3066 L 512 3066 L 512 883 L 890 883 C 1613 883 2259 909 3066 1050 L 3021 1485 C 2291 1357 1677 1331 1024 1331 L 1024 2630 L 2662 2630 L 2662 4666 L 499 4666 z M 3411 5165 L 3411 -198 L 3904 -198 L 3904 2573 L 4723 2573 L 4723 -499 L 5229 -499 L 5229 5293 L 4723 5293 L 4723 3008 L 3904 3008 L 3904 5165 L 3411 5165 z " transform="scale(0.015625)"/> <path id="gl-Regular-c5d0" d="M 4730 5293 L 4730 -499 L 5242 -499 L 5242 5293 L 4730 5293 z M 1619 4314 C 2080 4314 2368 3731 2368 2797 C 2368 1856 2080 1274 1619 1274 C 1171 1274 883 1856 883 2797 C 883 3731 1171 4314 1619 4314 z M 1619 4806 C 877 4806 390 4032 390 2797 C 390 1555 877 774 1619 774 C 2336 774 2810 1472 2854 2605 L 3578 2605 L 3578 -205 L 4083 -205 L 4083 5171 L 3578 5171 L 3578 3040 L 2854 3040 C 2797 4134 2323 4806 1619 4806 z " transform="scale(0.015625)"/> <path id="gl-Regular-c14b" d="M 4691 5293 L 4691 1344 L 5197 1344 L 5197 5293 L 4691 5293 z M 3558 5165 L 3558 3968 L 2662 3968 L 2662 3533 L 3558 3533 L 3558 1875 L 4064 1875 L 4064 5165 L 3558 5165 z M 3034 1626 L 3034 1446 C 3034 704 2093 90 1069 -58 L 1267 -474 C 2138 -333 2944 102 3296 736 C 3654 102 4454 -333 5325 -474 L 5530 -58 C 4506 90 3565 704 3565 1446 L 3565 1626 L 3034 1626 z M 1517 4941 L 1517 4186 C 1517 3526 1069 2771 320 2432 L 608 2029 C 1165 2278 1568 2758 1773 3309 C 1971 2797 2349 2368 2880 2138 L 3162 2547 C 2445 2854 2029 3520 2029 4186 L 2029 4941 L 1517 4941 z " transform="scale(0.015625)"/> <path id="gl-Regular-c0dd" d="M 3296 1587 C 2099 1587 1363 1203 1363 550 C 1363 -102 2099 -486 3296 -486 C 4486 -486 5229 -102 5229 550 C 5229 1203 4486 1587 3296 1587 z M 3296 1178 C 4160 1178 4698 947 4698 550 C 4698 154 4160 -77 3296 -77 C 2426 -77 1888 154 1888 550 C 1888 947 2426 1178 3296 1178 z M 1530 4928 L 1530 4154 C 1530 3507 1082 2758 320 2419 L 608 2010 C 1171 2259 1581 2746 1792 3296 C 1997 2797 2387 2387 2931 2170 L 3213 2579 C 2477 2861 2042 3514 2042 4154 L 2042 4928 L 1530 4928 z M 3450 5178 L 3450 1901 L 3949 1901 L 3949 3302 L 4691 3302 L 4691 1715 L 5197 1715 L 5197 5286 L 4691 5286 L 4691 3738 L 3949 3738 L 3949 5178 L 3450 5178 z " transform="scale(0.015625)"/> <path id="gl-Regular-ba85" d="M 2707 4422 L 2707 2707 L 1107 2707 L 1107 4422 L 2707 4422 z M 3174 1696 C 1978 1696 1248 1293 1248 602 C 1248 -90 1978 -486 3174 -486 C 4371 -486 5101 -90 5101 602 C 5101 1293 4371 1696 3174 1696 z M 3174 1280 C 4045 1280 4576 1030 4576 602 C 4576 179 4045 -70 3174 -70 C 2304 -70 1773 179 1773 602 C 1773 1030 2304 1280 3174 1280 z M 4550 3923 L 4550 3206 L 3226 3206 L 3226 3923 L 4550 3923 z M 589 4851 L 589 2278 L 3226 2278 L 3226 2771 L 4550 2771 L 4550 1869 L 5082 1869 L 5082 5293 L 4550 5293 L 4550 4352 L 3226 4352 L 3226 4851 L 589 4851 z " transform="scale(0.015625)"/> </defs> <use href="#gl-Regular-bbf8"/> <use href="#gl-Regular-b798" transform="translate(91.999985 0)"/> <use href="#gl-Regular-c5d0" transform="translate(183.999969 0)"/> <use href="#gl-Regular-c14b" transform="translate(275.999954 0)"/> <use href="#gl-Regular-c0dd" transform="translate(367.999939 0)"/> <use href="#gl-Regular-ba85" transform="translate(459.999924 0)"/> </g> </g> <g id="line2d_23"> <path d="M 55.08 55.480811 L 64.08 55.480811 L 73.08 55.480811 " style="fill: none; stroke: #586a84; stroke-width: 2; stroke-linecap: square"/> </g> <g id="text_18"> <!-- KOSPI --> <g style="fill: #222222; stroke: #222222; stroke-width: 112.6" transform="translate(80.28 58.630811) scale(0.09 -0.09)"> <defs> <path id="gl-Regular-4b" d="M 646 0 L 1235 0 L 1235 1485 L 2042 2445 L 3450 0 L 4109 0 L 2413 2912 L 3885 4691 L 3213 4691 L 1248 2336 L 1235 2336 L 1235 4691 L 646 4691 L 646 0 z " transform="scale(0.015625)"/> <path id="gl-Regular-4f" d="M 2374 -83 C 3552 -83 4378 858 4378 2362 C 4378 3866 3552 4774 2374 4774 C 1197 4774 371 3866 371 2362 C 371 858 1197 -83 2374 -83 z M 2374 435 C 1530 435 979 1190 979 2362 C 979 3533 1530 4256 2374 4256 C 3219 4256 3770 3533 3770 2362 C 3770 1190 3219 435 2374 435 z " transform="scale(0.015625)"/> <path id="gl-Regular-53" d="M 1946 -83 C 2925 -83 3539 506 3539 1248 C 3539 1946 3117 2266 2573 2502 L 1907 2790 C 1542 2944 1126 3117 1126 3578 C 1126 3994 1472 4256 2003 4256 C 2438 4256 2784 4090 3072 3821 L 3379 4198 C 3053 4538 2560 4774 2003 4774 C 1152 4774 525 4256 525 3533 C 525 2848 1043 2515 1478 2330 L 2150 2035 C 2598 1837 2938 1683 2938 1197 C 2938 742 2573 435 1952 435 C 1466 435 992 666 659 1018 L 307 608 C 710 186 1280 -83 1946 -83 z " transform="scale(0.015625)"/> <path id="gl-Regular-50" d="M 646 0 L 1235 0 L 1235 1869 L 2010 1869 C 3040 1869 3738 2323 3738 3315 C 3738 4339 3034 4691 1984 4691 L 646 4691 L 646 0 z M 1235 2349 L 1235 4211 L 1907 4211 C 2733 4211 3149 4000 3149 3315 C 3149 2643 2758 2349 1933 2349 L 1235 2349 z " transform="scale(0.015625)"/> <path id="gl-Regular-49" d="M 646 0 L 1235 0 L 1235 4691 L 646 4691 L 646 0 z " transform="scale(0.015625)"/> </defs> <use href="#gl-Regular-4b"/> <use href="#gl-Regular-4f" transform="translate(64.599991 0)"/> <use href="#gl-Regular-53" transform="translate(138.799973 0)"/> <use href="#gl-Regular-50" transform="translate(198.399963 0)"/> <use href="#gl-Regular-49" transform="translate(261.699951 0)"/> </g> </g> </g> </g> </g> <defs> <clipPath id="p54ad250956"> <rect x="46.98" y="29.9304" width="590.112" height="233.5176"/> </clipPath> </defs> </svg> </body></html>
